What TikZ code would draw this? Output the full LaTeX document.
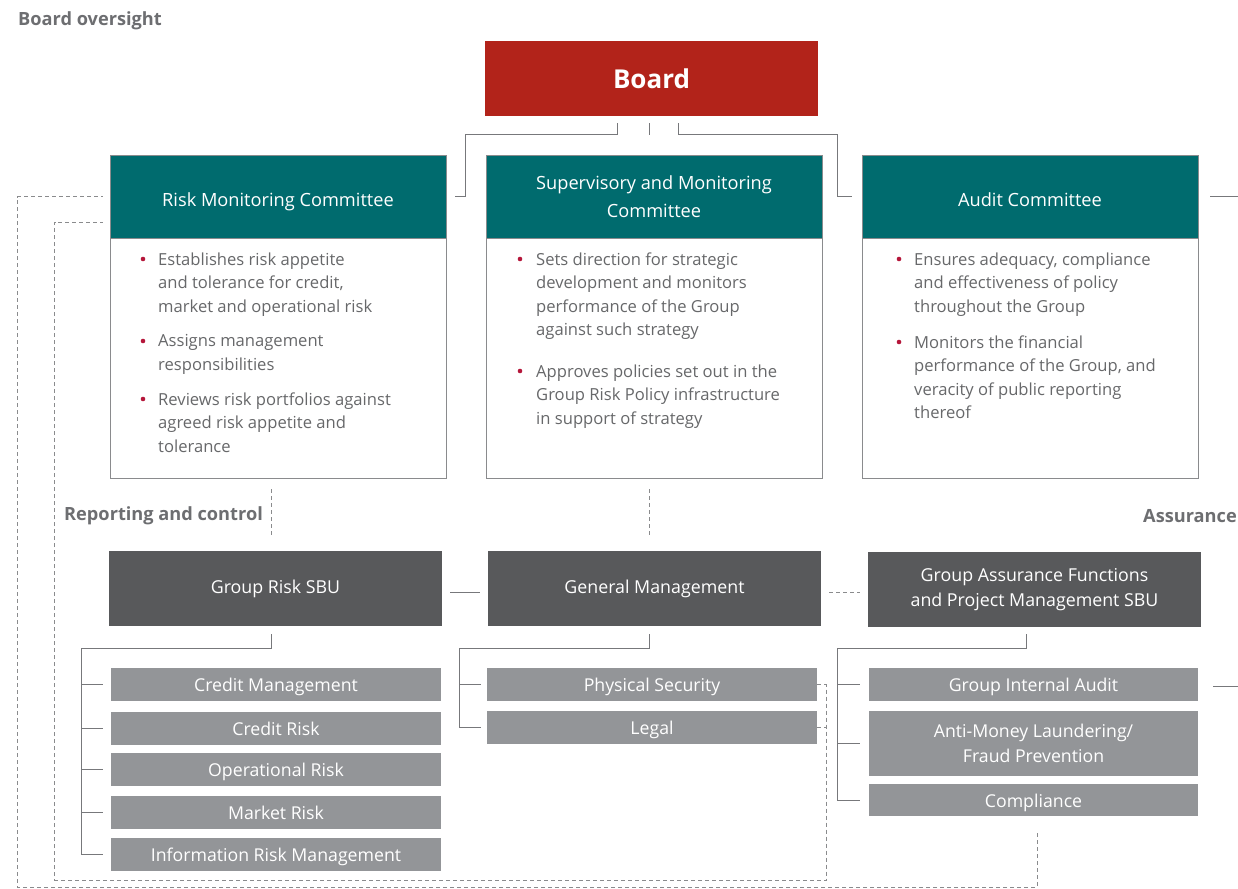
\documentclass[tikz,border=0pt]{standalone}
\usepackage{fontspec}
\setmainfont{Open Sans}
\usetikzlibrary{calc}
\definecolor{boardred}{HTML}{B2231A}
\definecolor{teal}{HTML}{006B6E}
\definecolor{dgray}{HTML}{58595B}
\definecolor{lgray}{HTML}{939598}
\definecolor{linegray}{HTML}{77787B}
\definecolor{dashgray}{HTML}{8A8B8D}
\definecolor{txtgray}{HTML}{67686A}
\definecolor{lblgray}{HTML}{6D6E71}
\definecolor{bulletred}{HTML}{B5163A}
\newcommand{\lowtext}[2]{\raisebox{-#1}[0pt][0pt]{#2}}
\begin{document}
\begin{tikzpicture}[x=1pt,y=-1pt,
  boardbox/.style={fill=boardred, text=white, inner sep=0, minimum width=333pt, minimum height=75pt, font=\fontsize{26}{28}\selectfont\bfseries},
  hdr/.style={fill=teal, draw=dashgray, line width=0.8pt, text=white, inner sep=0, minimum width=336pt, minimum height=83pt, align=center, font=\fontsize{18.2}{28}\selectfont},
  bodybox/.style={fill=white, draw=dashgray, line width=0.8pt, inner sep=0, minimum width=336pt, minimum height=240pt},
  mgmt/.style={fill=dgray, text=white, inner sep=0, minimum width=333pt, minimum height=75pt, align=center, font=\fontsize{17.8}{25}\selectfont},
  sub/.style={fill=lgray, text=white, inner sep=0, minimum width=330pt, minimum height=33pt, align=center, font=\fontsize{17.7}{25}\selectfont},
  sub1/.style={sub, text height=16pt, text depth=2pt},
  btext/.style={anchor=north west, inner sep=0, align=left, text=txtgray, font=\fontsize{16.6}{23.4}\selectfont},
  lbl/.style={anchor=west, inner sep=0, text=lblgray, font=\fontsize{18.2}{20}\selectfont\bfseries},
  conn/.style={draw=linegray, line width=1pt},
  dconn/.style={draw=dashgray, line width=1pt, dash pattern=on 4pt off 3pt},
  bul/.style={fill=bulletred}
]
\useasboundingbox (0,0) rectangle (1238,888);
\fill[white] (0,0) rectangle (1238,888);

% titles
\node[lbl] (tOversight) at (18,21) {Board oversight};
\node[lbl] (tReporting) at (64,516) {Reporting and control};
\node[lbl, anchor=east] (tAssurance) at (1237,516) {Assurance};

% board
\node[boardbox] (board) at (651.5,78.5) {Board};

% committees
\node[hdr] (rmc) at (278,196.5) {\lowtext{10pt}{Risk Monitoring Committee}};
\node[hdr] (smc) at (654,196.5) {Supervisory and Monitoring\\Committee};
\node[hdr] (audc) at (1030,196.5) {\lowtext{10pt}{Audit Committee}};
\node[bodybox, anchor=north] (rmcb) at (rmc.south) {};
\node[bodybox, anchor=north] (smcb) at (smc.south) {};
\node[bodybox, anchor=north] (audcb) at (audc.south) {};

% bullets
\foreach \bx/\by in {143/259, 143/341, 143/399, 520/259, 520/371, 899/259, 899/342}
  \fill[bul] (\bx,\by) circle (2.3pt);

\node[btext] (r1) at (158,252.5) {Establishes risk appetite\\and tolerance for credit,\\market and operational risk};
\node[btext] (r2) at (158,334.5) {Assigns management\\responsibilities};
\node[btext] (r3) at (158,392.5) {Reviews risk portfolios against\\agreed risk appetite and\\tolerance};
\node[btext] (s1) at (536,252.5) {Sets direction for strategic\\development and monitors\\performance of the Group\\against such strategy};
\node[btext] (s2) at (536,364.5) {Approves policies set out in the\\Group Risk Policy infrastructure\\in support of strategy};
\node[btext] (a1) at (914,252.5) {Ensures adequacy, compliance\\and effectiveness of policy\\throughout the Group};
\node[btext] (a2) at (914,335.5) {Monitors the financial\\performance of the Group, and\\veracity of public reporting\\thereof};

% management row
\node[mgmt] (grs) at (275.5,588.5) {Group Risk SBU};
\node[mgmt] (gm) at (654.5,588.5) {General Management};
\node[mgmt] (gaf) at (1034.5,589.5) {Group Assurance Functions\\and Project Management SBU};

% sub units
\node[sub1] (cm) at (276,684.5) {Credit Management};
\node[sub1] (cr) at (276,728) {Credit Risk};
\node[sub1] (opr) at (276,769.5) {Operational Risk};
\node[sub1] (mr) at (276,812) {Market Risk};
\node[sub1] (irm) at (276,854) {Information Risk Management};

\node[sub1] (ps) at (652,684.5) {Physical Security};
\node[sub1] (legal) at (652,727.5) {Legal};

\node[sub1, minimum width=329pt] (gia) at (1033.5,684.5) {Group Internal Audit};
\node[sub, minimum width=329pt, minimum height=65pt, font=\fontsize{17.7}{24.5}\selectfont] (aml) at (1033.5,743.5) {Anti-Money Laundering/\\Fraud Prevention};
\node[sub1, minimum width=329pt, minimum height=32pt] (comp) at (1033.5,800) {Compliance};

% board connectors
\draw[conn] ($(board.south)+(-34.5,7)$) -- ++(0,11) -| ($(rmc.east)+(19,0)$) -- ($(rmc.east)+(9,0)$);
\draw[conn] ($(board.south)+(-2.5,7)$) -- ++(0,12);
\draw[conn] ($(board.south)+(26.5,7)$) -- ++(0,11) -| ($(audc.west)+(-24,0)$) -- ($(audc.west)+(-10,0)$);
\draw[conn] ($(audc.east)+(12,0)$) -- ++(40,0);

% committee to management dashed
\draw[dconn] ($(rmcb.south)+(-7,10)$) -- ($(grs.north)+(-4.5,-13)$);
\draw[dconn] ($(smcb.south)+(-5,10)$) -- ($(gm.north)+(-5.5,-13)$);

% management links
\draw[conn] ($(grs.east)+(8,3.5)$) -- ($(gm.west)+(-8,3.5)$);
\draw[dconn] ($(gm.east)+(8,3.5)$) -- ($(gaf.west)+(-8,2.5)$);

% group risk tree
\draw[conn] ($(grs.south)+(-4.5,8)$) -- ++(0,14) -| ($(irm.west)+(-29,0)$) -- ($(irm.west)+(-8,0)$);
\foreach \n in {cm,cr,opr,mr}
  \draw[conn] ($(\n.west)+(-29,0)$) -- ($(\n.west)+(-8,0)$);

% general management tree
\draw[conn] ($(gm.south)+(-5.5,8)$) -- ++(0,14) -| ($(legal.west)+(-27,0)$) -- ($(legal.west)+(-6,0)$);
\draw[conn] ($(ps.west)+(-27,0)$) -- ($(ps.west)+(-6,0)$);

% assurance tree
\draw[conn] ($(gaf.south)+(-8.5,7)$) -- ++(0,14) -| ($(comp.west)+(-31,0)$) -- ($(comp.west)+(-9,0)$);
\draw[conn] ($(gia.west)+(-31,0)$) -- ($(gia.west)+(-9,0)$);
\draw[conn] ($(aml.west)+(-31,0)$) -- ($(aml.west)+(-9,0)$);
\draw[conn] ($(gia.east)+(15,2)$) -- ++(40,0);

% dashed loops
\draw[dconn] (ps.east) -- ++(9,0) coordinate (psr) -- ($(psr)+(0,195.5)$) coordinate (loopbr) -| ($(rmc.west)+(-55,25.5)$) -- ($(rmc.west)+(-7,25.5)$);
\draw[dconn] (legal.east) -- ++(9,0);
\draw[dconn] ($(comp.south)+(3.5,17)$) -- ++(0,54) coordinate (outbr) -| ($(rmc.west)+(-92,0)$) -- ($(rmc.west)+(-7,0)$);
\end{tikzpicture}
\end{document}
